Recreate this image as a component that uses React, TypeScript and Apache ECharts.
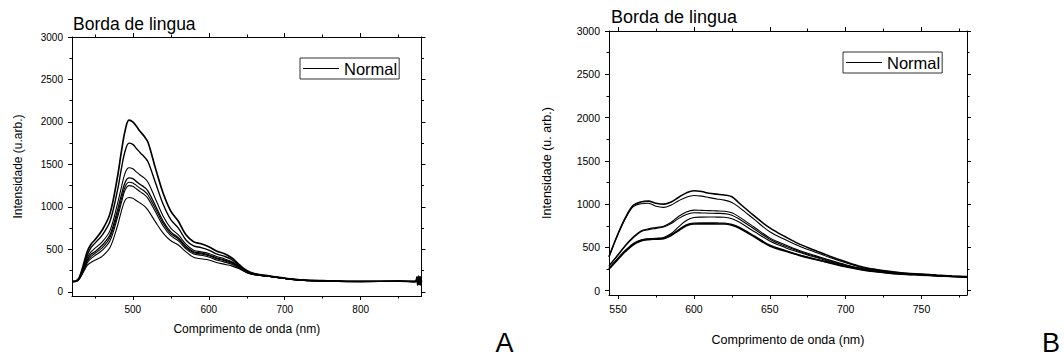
import React, { useEffect, useRef } from "react";
import * as echarts from "echarts";

const FONT = '"Liberation Sans", Arial, Helvetica, sans-serif';

// ---------- Panel A data ----------
const xA = [420, 425, 430, 440, 445, 450, 460, 470, 480, 485, 490, 495, 500, 505, 510, 515, 520, 530, 540, 550, 560, 570, 580, 590, 600, 610, 620, 630, 640, 650, 660, 680, 700, 720, 750, 800, 850, 872, 874, 875, 876, 877, 878, 879, 880];
const a1 = [120, 125, 175, 470, 560, 610, 730, 920, 1360, 1650, 1900, 2020, 2000, 1945, 1885, 1830, 1760, 1450, 1160, 950, 830, 670, 590, 565, 530, 480, 450, 400, 320, 250, 215, 185, 160, 140, 130, 122, 125, 120, 170, 80, 180, 90, 170, 85, 130];
const a2 = [120, 124, 170, 430, 520, 570, 670, 830, 1200, 1450, 1660, 1750, 1735, 1685, 1635, 1590, 1530, 1280, 1030, 850, 750, 610, 540, 520, 490, 445, 420, 380, 305, 240, 210, 183, 158, 139, 129, 121, 124, 121, 160, 85, 175, 95, 180, 80, 120];
const a3 = [120, 124, 165, 400, 470, 510, 590, 720, 1040, 1230, 1400, 1460, 1448, 1408, 1372, 1340, 1290, 1090, 890, 750, 670, 560, 490, 470, 450, 415, 390, 355, 295, 235, 207, 182, 158, 139, 129, 121, 124, 119, 175, 90, 165, 80, 170, 95, 125];
const a4 = [120, 123, 162, 375, 440, 470, 550, 670, 965, 1140, 1290, 1340, 1332, 1297, 1262, 1232, 1186, 1010, 830, 705, 635, 535, 470, 455, 435, 400, 375, 345, 290, 232, 205, 181, 157, 138, 128, 121, 123, 121, 155, 90, 185, 95, 165, 85, 115];
const a5 = [120, 123, 160, 360, 415, 450, 520, 640, 920, 1090, 1240, 1290, 1282, 1250, 1216, 1186, 1140, 975, 805, 685, 620, 520, 460, 445, 425, 390, 365, 335, 285, 230, 203, 180, 157, 138, 128, 120, 123, 120, 170, 80, 170, 100, 160, 90, 135];
const a6 = [120, 122, 158, 340, 390, 425, 490, 600, 880, 1050, 1200, 1250, 1242, 1210, 1176, 1146, 1100, 940, 775, 660, 600, 505, 445, 430, 410, 375, 352, 325, 280, 228, 202, 180, 156, 137, 128, 120, 122, 122, 165, 95, 165, 85, 180, 90, 120];
const a7 = [120, 122, 155, 310, 345, 370, 420, 520, 780, 950, 1080, 1110, 1100, 1072, 1042, 1012, 962, 820, 690, 600, 550, 470, 405, 388, 375, 345, 325, 305, 270, 225, 200, 180, 156, 137, 127, 120, 122, 120, 160, 85, 180, 95, 170, 90, 128];
const seriesA = [a1, a2, a3, a4, a5, a6, a7];
const widthsA = [1.7, 1.4, 1.1, 1.3, 1.1, 1.1, 1.1];

// ---------- Panel B data ----------
const xB = [544, 550, 555, 560, 565, 570, 575, 580, 585, 590, 595, 600, 605, 610, 615, 620, 625, 630, 640, 650, 660, 670, 680, 690, 700, 710, 720, 730, 740, 750, 760, 770, 780];
const b1 = [392, 660, 850, 985, 1025, 1035, 1010, 1000, 1025, 1080, 1130, 1154, 1145, 1125, 1115, 1105, 1085, 1010, 860, 725, 625, 535, 465, 395, 335, 280, 245, 220, 202, 192, 180, 170, 162];
const b2 = [392, 655, 840, 970, 1005, 1010, 975, 962, 990, 1040, 1080, 1100, 1092, 1075, 1060, 1046, 1020, 960, 820, 680, 590, 510, 445, 380, 322, 272, 240, 215, 200, 190, 178, 168, 160];
const b3 = [290, 420, 530, 620, 690, 715, 730, 745, 790, 860, 910, 930, 928, 925, 922, 918, 900, 850, 730, 610, 530, 460, 405, 350, 300, 260, 232, 210, 195, 187, 176, 167, 160];
const b4 = [285, 410, 520, 610, 680, 705, 720, 735, 775, 835, 880, 900, 898, 895, 893, 890, 872, 825, 710, 595, 515, 450, 395, 342, 293, 255, 228, 207, 193, 185, 175, 166, 159];
const b5 = [260, 380, 470, 545, 585, 600, 605, 615, 660, 740, 810, 845, 850, 852, 850, 848, 830, 790, 680, 575, 500, 440, 385, 335, 290, 252, 226, 205, 192, 184, 174, 165, 158];
const b6 = [255, 370, 460, 535, 580, 595, 600, 605, 645, 705, 760, 780, 782, 782, 781, 780, 765, 730, 630, 525, 465, 410, 365, 322, 280, 246, 221, 202, 190, 182, 173, 164, 157];
const b7 = [250, 365, 455, 530, 575, 590, 595, 600, 638, 695, 750, 770, 772, 772, 771, 770, 755, 720, 620, 515, 458, 405, 360, 318, 276, 243, 218, 200, 188, 180, 171, 163, 156];
const seriesB = [b1, b2, b3, b4, b5, b6, b7];
const widthsB = [1.6, 1.1, 1.1, 1.1, 1.1, 1.4, 1.6];

// ---------- Ticks ----------
const yMajor = [0, 500, 1000, 1500, 2000, 2500, 3000];
const yMinor = [250, 750, 1250, 1750, 2250, 2750];
const xMajorA = [500, 600, 700, 800];
const xMinorA = [450, 550, 650, 750, 850];
const xMajorB = [550, 600, 650, 700, 750];
const xMinorB = [575, 625, 675, 725, 775];

const TITLE = "Borda de lingua";
const XNAME = "Comprimento de onda (nm)";
const YNAME_A = "Intensidade (u.arb.)";
const YNAME_B = "Intensidade (u. arb.)";
const LEGEND = "Normal";

type AxisCfg = {
  gi: number;
  min: number;
  max: number;
  major: number[];
  minor: number[];
  name: string;
  nameGap: number;
  nameSize: number;
  labelSize: number;
  labelMargin: number;
};

function axisSet(dim: "x" | "y", c: AxisCfg) {
  const mainPos = dim === "x" ? "bottom" : "left";
  const mirrorPos = dim === "x" ? "top" : "right";
  const base = {
    type: "value",
    gridIndex: c.gi,
    min: c.min,
    max: c.max,
    splitLine: { show: false },
    axisLine: { show: true, onZero: false, lineStyle: { color: "#000", width: 1 } },
    axisTick: { show: true, inside: false, length: 4, customValues: c.major, lineStyle: { color: "#000", width: 1 } },
    axisLabel: { show: false },
  };
  const minorTicks = (pos: string) => ({
    ...base,
    position: pos,
    axisLine: { show: false, onZero: false },
    axisTick: { show: true, inside: false, length: 2.5, customValues: c.minor, lineStyle: { color: "#000", width: 1 } },
  });
  return [
    {
      ...base,
      position: mainPos,
      axisLabel: {
        show: true,
        customValues: c.major,
        formatter: (v: number) => String(v),
        fontSize: c.labelSize,
        color: "#000",
        fontFamily: FONT,
        margin: c.labelMargin,
      },
      name: c.name,
      nameLocation: "middle",
      nameGap: c.nameGap,
      nameTextStyle: { fontSize: c.nameSize, color: "#000", fontFamily: FONT },
    },
    minorTicks(mainPos),
    { ...base, position: mirrorPos },
    minorTicks(mirrorPos),
  ];
}

export default function App() {
  const ref = useRef<HTMLDivElement>(null);

  useEffect(() => {
    if (!ref.current) return;
    const chart = echarts.init(ref.current, undefined, { renderer: "svg" });

    const xAxes = [
      ...axisSet("x", { gi: 0, min: 420, max: 880, major: xMajorA, minor: xMinorA, name: XNAME, nameGap: 27, nameSize: 12, labelSize: 10, labelMargin: 8 }),
      ...axisSet("x", { gi: 1, min: 544, max: 780, major: xMajorB, minor: xMinorB, name: XNAME, nameGap: 38, nameSize: 12.5, labelSize: 10.5, labelMargin: 8 }),
    ];
    const yAxes = [
      ...axisSet("y", { gi: 0, min: -50, max: 3000, major: yMajor, minor: yMinor, name: YNAME_A, nameGap: 48, nameSize: 12, labelSize: 10, labelMargin: 9 }),
      ...axisSet("y", { gi: 1, min: -50, max: 3000, major: yMajor, minor: yMinor, name: YNAME_B, nameGap: 56, nameSize: 12.5, labelSize: 10.5, labelMargin: 9 }),
    ];

    const mk = (xs: number[], ys: number[], w: number, axisIdx: number) => ({
      type: "line",
      name: LEGEND,
      xAxisIndex: axisIdx,
      yAxisIndex: axisIdx,
      data: xs.map((x, i) => [x, ys[i]]),
      symbol: "none",
      showSymbol: false,
      smooth: 0.35,
      lineStyle: { color: "#000", width: w },
      itemStyle: { color: "#000" },
      emphasis: { disabled: true },
    });

    const legendBase = {
      data: [{ name: LEGEND, icon: "rect" }],
      orient: "horizontal",
      borderColor: "#333",
      borderWidth: 1,
      padding: [2, 2, 2, 3],
      itemWidth: 36,
      itemHeight: 1.2,
      itemGap: 0,
      selectedMode: false,
      itemStyle: { color: "#000", borderWidth: 0 },
      lineStyle: { width: 0 },
      textStyle: { fontSize: 16.5, color: "#000", fontFamily: FONT, lineHeight: 17 },
    };

    chart.setOption({
      animation: false,
      backgroundColor: "#fff",
      textStyle: { fontFamily: FONT },
      grid: [
        { left: 72, top: 37, width: 349.5, height: 259 },
        { left: 609, top: 31, width: 358, height: 264 },
      ],
      xAxis: xAxes,
      yAxis: yAxes,
      legend: [
        { ...legendBase, left: 300, top: 58 },
        { ...legendBase, left: 843, top: 52 },
      ],
      series: [
        ...seriesA.map((s, i) => mk(xA, s, widthsA[i], 0)),
        ...seriesB.map((s, i) => mk(xB, s, widthsB[i], 4)),
      ],
      graphic: [
        { type: "text", x: 73, y: 24, style: { text: TITLE, fontSize: 17.5, fontFamily: FONT, fill: "#000", align: "left", verticalAlign: "middle" } },
        { type: "text", x: 611, y: 17, style: { text: TITLE, fontSize: 18, fontFamily: FONT, fill: "#000", align: "left", verticalAlign: "middle" } },
        { type: "text", x: 504.5, y: 343, style: { text: "A", fontSize: 27, fontFamily: FONT, fill: "#000", align: "center", verticalAlign: "middle" } },
        { type: "text", x: 1051, y: 343, style: { text: "B", fontSize: 27, fontFamily: FONT, fill: "#000", align: "center", verticalAlign: "middle" } },
      ],
    });

    return () => chart.dispose();
  }, []);

  return (
    <div
      ref={ref}
      style={{ position: "absolute", left: 0, top: 0, width: 1064, height: 358, background: "#fff" }}
    />
  );
}
